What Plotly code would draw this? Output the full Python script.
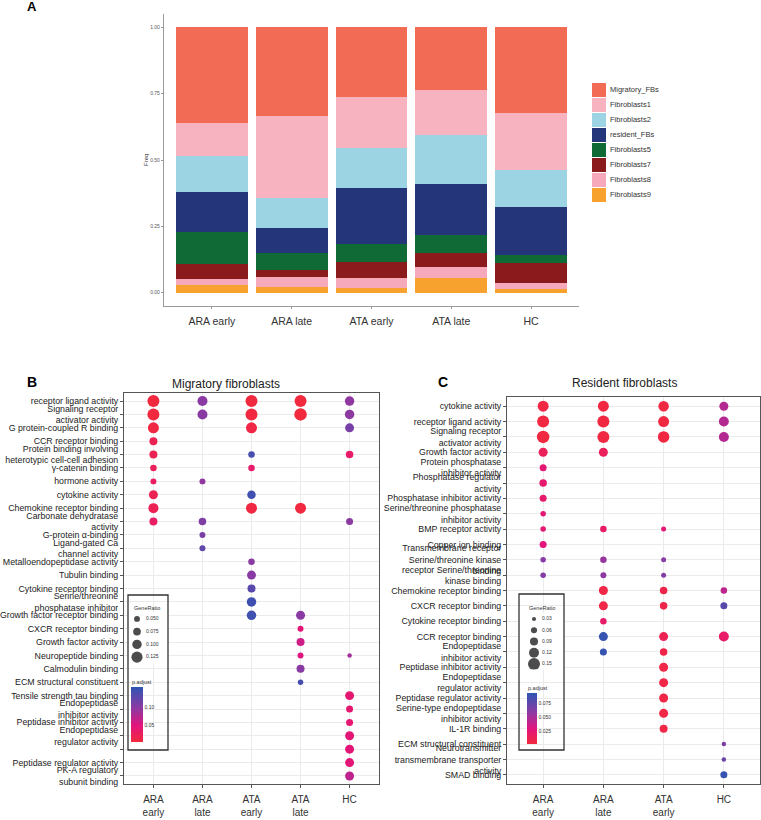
import plotly.graph_objects as go

W, H = 761, 820
FONT = "Liberation Sans, Arial, Helvetica, sans-serif"


def dx(a, b):
    return [a / W, b / W]


def dy(top, bottom):
    return [1 - bottom / H, 1 - top / H]


# ---------------- Panel A data ----------------
groups = ["ARA early", "ARA late", "ATA early", "ATA late", "HC"]
cell_types = ["Migratory_FBs", "Fibroblasts1", "Fibroblasts2", "resident_FBs",
              "Fibroblasts5", "Fibroblasts7", "Fibroblasts8", "Fibroblasts9"]
freq_migratory_fbs = [0.361, 0.333, 0.261, 0.236, 0.323]
freq_fibroblasts1 = [0.123, 0.312, 0.194, 0.168, 0.216]
freq_fibroblasts2 = [0.136, 0.111, 0.150, 0.185, 0.138]
freq_resident_fbs = [0.152, 0.096, 0.213, 0.195, 0.181]
freq_fibroblasts5 = [0.121, 0.063, 0.065, 0.068, 0.029]
freq_fibroblasts7 = [0.054, 0.026, 0.061, 0.050, 0.075]
freq_fibroblasts8 = [0.025, 0.039, 0.037, 0.043, 0.025]
freq_fibroblasts9 = [0.028, 0.020, 0.019, 0.055, 0.013]
freq_by_type = [freq_migratory_fbs, freq_fibroblasts1, freq_fibroblasts2, freq_resident_fbs,
                freq_fibroblasts5, freq_fibroblasts7, freq_fibroblasts8, freq_fibroblasts9]
type_colors = ["#F26C55", "#F7B4C0", "#9DD4E3", "#25357A",
               "#106A36", "#8B1A1D", "#F5A9BB", "#F7A22E"]
a_yticks = [0, 0.25, 0.5, 0.75, 1.0]
a_yticktext = ["0.00", "0.25", "0.50", "0.75", "1.00"]

# ---------------- Panel B data (Migratory fibroblasts) ----------------
b_groups = ["ARA<br>early", "ARA<br>late", "ATA<br>early", "ATA<br>late", "HC"]
b_terms = [
    "receptor ligand activity",
    "Signaling receptor<br>activator activity",
    "G protein-coupled R binding",
    "CCR receptor binding",
    "Protein binding involving<br>heterotypic cell-cell adhesion",
    "γ-catenin binding",
    "hormone activity",
    "cytokine activity",
    "Chemokine receptor binding",
    "Carbonate dehydratase<br>activity",
    "G-protein α-binding",
    "Ligand-gated Ca<br>channel activity",
    "Metalloendopeptidase activity",
    "Tubulin binding",
    "Cytokine receptor binding",
    "Serine/threonine<br>phosphatase inhibitor",
    "Growth factor receptor binding",
    "CXCR receptor binding",
    "Growth factor activity",
    "Neuropeptide binding",
    "Calmodulin binding",
    "ECM structural constituent",
    "Tensile strength tau binding",
    "Endopeptidase<br>inhibitor activity",
    "Peptidase inhibitor activity",
    "Endopeptidase<br>regulator activity",
    "",
    "Peptidase regulator activity",
    "PK-A regulatory<br>subunit binding",
]
b_row = [0, 0, 0, 0, 0, 1, 1, 1, 1, 1, 2, 2, 2, 3, 4, 4, 4, 5, 5, 6, 6, 7, 7, 8, 8, 8,
         9, 9, 9, 10, 11, 12, 13, 14, 15, 16, 16, 17, 18, 19, 19, 20, 21,
         22, 23, 24, 25, 26, 27, 28]
b_col = [0, 1, 2, 3, 4, 0, 1, 2, 3, 4, 0, 2, 4, 0, 0, 2, 4, 0, 2, 0, 1, 0, 2, 0, 2, 3,
         0, 1, 4, 1, 1, 2, 2, 2, 2, 2, 3, 3, 3, 3, 4, 3, 3,
         4, 4, 4, 4, 4, 4, 4]
b_ratio = [0.137, 0.109, 0.137, 0.137, 0.101, 0.137, 0.109, 0.137, 0.144, 0.101,
           0.123, 0.123, 0.094, 0.080, 0.080, 0.059, 0.073, 0.059, 0.059, 0.051, 0.051,
           0.094, 0.087, 0.109, 0.123, 0.123, 0.080, 0.073, 0.066, 0.051, 0.051,
           0.059, 0.094, 0.080, 0.101, 0.101, 0.094, 0.051, 0.080, 0.051, 0.030,
           0.080, 0.044, 0.094, 0.066, 0.066, 0.094, 0.094, 0.094, 0.094]
b_padj = [0.005, 0.100, 0.006, 0.004, 0.095, 0.005, 0.100, 0.006, 0.004, 0.098,
          0.008, 0.010, 0.110, 0.020, 0.020, 0.140, 0.035, 0.025, 0.035, 0.030, 0.095,
          0.020, 0.145, 0.020, 0.008, 0.006, 0.030, 0.105, 0.100, 0.110, 0.125,
          0.100, 0.100, 0.130, 0.145, 0.145, 0.100, 0.045, 0.060, 0.050, 0.085,
          0.100, 0.140, 0.040, 0.040, 0.040, 0.045, 0.045, 0.045, 0.070]
b_size_breaks = [0.050, 0.075, 0.100, 0.125]
b_size_labels = ["0.050", "0.075", "0.100", "0.125"]
b_padj_ticks = [0.05, 0.10]
b_padj_labels = ["0.05", "0.10"]
b_padj_limits = [0.003, 0.156]

# ---------------- Panel C data (Resident fibroblasts) ----------------
c_groups = ["ARA<br>early", "ARA<br>late", "ATA<br>early", "HC"]
c_terms = [
    "cytokine activity",
    "receptor ligand activity",
    "Signaling receptor<br>activator activity",
    "Growth factor activity",
    "Protein phosphatase<br>inhibitor activity",
    "Phosphatase regulator<br>activity",
    "Phosphatase inhibitor activity",
    "Serine/threonine phosphatase<br>inhibitor activity",
    "BMP receptor activity",
    "Copper ion binding",
    "Transmembrane receptor<br>Serine/threonine kinase<br>binding",
    "receptor Serine/threonine<br>kinase binding",
    "Chemokine receptor binding",
    "CXCR receptor binding",
    "Cytokine receptor binding",
    "CCR receptor binding",
    "Endopeptidase<br>inhibitor activity",
    "Peptidase inhibitor activity",
    "Endopeptidase<br>regulator activity",
    "Peptidase regulator activity",
    "Serine-type endopeptidase<br>inhibitor activity",
    "IL-1R binding",
    "ECM structural constituent",
    "Neurotransmitter<br>transmembrane transporter<br>activity",
    "SMAD binding",
]
c_row = [0, 0, 0, 0, 1, 1, 1, 1, 2, 2, 2, 2, 3, 3, 4, 5, 6, 7, 8, 8, 8, 9,
         10, 10, 10, 11, 11, 11, 12, 12, 12, 13, 13, 13, 14, 15, 15, 15, 16, 16,
         17, 18, 19, 20, 21, 22, 23, 24]
c_col = [0, 1, 2, 3, 0, 1, 2, 3, 0, 1, 2, 3, 0, 1, 0, 0, 0, 0, 0, 1, 2, 0,
         0, 1, 2, 0, 1, 2, 1, 2, 3, 1, 2, 3, 1, 1, 2, 3, 1, 2,
         2, 2, 2, 2, 2, 3, 3, 3]
c_ratio = [0.135, 0.135, 0.128, 0.105, 0.151, 0.151, 0.135, 0.120, 0.158, 0.151, 0.143, 0.120,
           0.105, 0.105, 0.074, 0.082, 0.074, 0.051, 0.051, 0.066, 0.043, 0.074,
           0.051, 0.066, 0.043, 0.051, 0.058, 0.043, 0.105, 0.082, 0.066, 0.105, 0.082, 0.074,
           0.066, 0.105, 0.105, 0.120, 0.074, 0.082,
           0.105, 0.105, 0.105, 0.105, 0.089, 0.035, 0.035, 0.074]
c_padj = [0.005, 0.004, 0.004, 0.045, 0.004, 0.004, 0.004, 0.045, 0.004, 0.004, 0.004, 0.045,
          0.015, 0.015, 0.025, 0.022, 0.022, 0.025, 0.025, 0.020, 0.025, 0.028,
          0.060, 0.055, 0.060, 0.062, 0.058, 0.062, 0.006, 0.008, 0.042, 0.006, 0.008, 0.078,
          0.020, 0.090, 0.012, 0.020, 0.090, 0.008,
          0.006, 0.006, 0.006, 0.006, 0.006, 0.065, 0.070, 0.090]
c_size_breaks = [0.03, 0.06, 0.09, 0.12, 0.15]
c_size_labels = ["0.03", "0.06", "0.09", "0.12", "0.15"]
c_padj_ticks = [0.025, 0.050, 0.075]
c_padj_labels = ["0.025", "0.050", "0.075"]
c_padj_limits = [0.002, 0.093]

padj_scale = [[0.0, "#F22A3C"], [0.3, "#E2147E"], [0.62, "#8C3AA2"], [1.0, "#2E55B3"]]


def b_diam(r):
    return 2.4 + 70 * r


def c_diam(r):
    return 2.2 + 65 * r


fig = go.Figure()

# ---------------- Panel A: stacked bars ----------------
for name, vals, col in reversed(list(zip(cell_types, freq_by_type, type_colors))):
    fig.add_trace(go.Bar(x=groups, y=vals, name=name, marker=dict(color=col, line=dict(width=0)),
                         width=0.9, xaxis="x", yaxis="y", showlegend=False))

# legend for panel A (key drawn in its own small axes)
legend_idx = list(range(len(cell_types)))
fig.add_trace(go.Scatter(
    x=[7] * len(cell_types), y=legend_idx, mode="markers", xaxis="x6", yaxis="y6",
    showlegend=False, hoverinfo="skip",
    marker=dict(symbol="square", size=14, color=type_colors, line=dict(width=0))))
fig.add_trace(go.Scatter(
    x=[18] * len(cell_types), y=legend_idx, mode="text", text=cell_types,
    textposition="middle right", xaxis="x6", yaxis="y6", showlegend=False, hoverinfo="skip",
    textfont=dict(size=7.5, color="#333", family=FONT)))

# ---------------- Panel B: dot plot ----------------
fig.add_trace(go.Scatter(
    x=b_col, y=b_row, mode="markers", xaxis="x2", yaxis="y2", showlegend=False,
    marker=dict(size=[b_diam(r) for r in b_ratio], color=b_padj, colorscale=padj_scale,
                cmin=b_padj_limits[0], cmax=b_padj_limits[1], line=dict(width=0), opacity=1,
                showscale=True,
                colorbar=dict(x=131 / W, xanchor="left", y=1 - 742 / H, yanchor="bottom",
                              len=55, lenmode="pixels", thickness=12, thicknessmode="pixels",
                              xpad=0, ypad=0, outlinewidth=0, ticks="",
                              tickvals=b_padj_ticks, ticktext=b_padj_labels,
                              tickfont=dict(size=5, color="#333", family=FONT)))))

fig.add_trace(go.Scatter(
    x=[9] * len(b_size_breaks), y=list(range(len(b_size_breaks))), mode="markers",
    xaxis="x4", yaxis="y4", showlegend=False, hoverinfo="skip",
    marker=dict(size=[b_diam(r) for r in b_size_breaks], color="black", line=dict(width=0))))
fig.add_trace(go.Scatter(
    x=[18] * len(b_size_breaks), y=list(range(len(b_size_breaks))), mode="text",
    text=b_size_labels, textposition="middle right", xaxis="x4", yaxis="y4", showlegend=False,
    hoverinfo="skip", textfont=dict(size=5, color="#333", family=FONT)))

# ---------------- Panel C: dot plot ----------------
fig.add_trace(go.Scatter(
    x=c_col, y=c_row, mode="markers", xaxis="x3", yaxis="y3", showlegend=False,
    marker=dict(size=[c_diam(r) for r in c_ratio], color=c_padj, colorscale=padj_scale,
                cmin=c_padj_limits[0], cmax=c_padj_limits[1], line=dict(width=0), opacity=1,
                showscale=True,
                colorbar=dict(x=527 / W, xanchor="left", y=1 - 744 / H, yanchor="bottom",
                              len=51, lenmode="pixels", thickness=10, thicknessmode="pixels",
                              xpad=0, ypad=0, outlinewidth=0, ticks="",
                              tickvals=c_padj_ticks, ticktext=c_padj_labels,
                              tickfont=dict(size=5, color="#333", family=FONT)))))

fig.add_trace(go.Scatter(
    x=[15] * len(c_size_breaks), y=list(range(len(c_size_breaks))), mode="markers",
    xaxis="x5", yaxis="y5", showlegend=False, hoverinfo="skip",
    marker=dict(size=[c_diam(r) for r in c_size_breaks], color="black", line=dict(width=0))))
fig.add_trace(go.Scatter(
    x=[23] * len(c_size_breaks), y=list(range(len(c_size_breaks))), mode="text",
    text=c_size_labels, textposition="middle right", xaxis="x5", yaxis="y5", showlegend=False,
    hoverinfo="skip", textfont=dict(size=5, color="#333", family=FONT)))

# ---------------- Layout ----------------
dot_x_common = dict(showgrid=True, gridcolor="#EBEBEB", gridwidth=1, zeroline=False,
                    showline=True, mirror=True, linecolor="#555", linewidth=1,
                    ticks="outside", ticklen=3, tickcolor="#555", automargin=False,
                    ticklabelstandoff=3,
                    tickfont=dict(size=10, color="#333", family=FONT))
dot_y_common = dict(showgrid=True, gridcolor="#EBEBEB", gridwidth=1, zeroline=False,
                    showline=True, mirror=True, linecolor="#555", linewidth=1,
                    ticks="outside", ticklen=3, tickcolor="#555", automargin=False,
                    tickfont=dict(size=8.8, color="#222", family=FONT))
inset = dict(visible=False, fixedrange=True, showgrid=False, zeroline=False, automargin=False)

fig.update_layout(
    width=W, height=H, margin=dict(l=0, r=0, t=0, b=0, autoexpand=False),
    paper_bgcolor="white", plot_bgcolor="white",
    font=dict(family=FONT, color="#222"),
    barmode="stack", bargap=0.1, showlegend=False,
    xaxis=dict(domain=dx(164, 579), range=[-0.6, 4.6], type="category", showgrid=False,
               zeroline=False, showline=True, linecolor="#9a9a9a", linewidth=1.2,
               ticks="outside", ticklen=2, tickcolor="#9a9a9a", automargin=False,
               ticklabelstandoff=3,
               tickfont=dict(size=10.5, color="#333", family=FONT), anchor="y"),
    yaxis=dict(domain=dy(14, 306), range=[-0.05, 1.05], showgrid=False, zeroline=False,
               showline=True, linecolor="#9a9a9a", linewidth=1.2, ticks="outside", ticklen=2,
               tickcolor="#9a9a9a", tickvals=a_yticks, ticktext=a_yticktext, automargin=False,
               tickfont=dict(size=5, color="#555", family=FONT), anchor="x"),
    xaxis2=dict(domain=dx(124, 379), range=[-0.6, 4.6], tickvals=list(range(len(b_groups))),
                ticktext=b_groups, anchor="y2", **dot_x_common),
    yaxis2=dict(domain=dy(393, 784), range=[len(b_terms) - 0.4, -0.6],
                tickvals=list(range(len(b_terms))), ticktext=b_terms, anchor="x2", **dot_y_common),
    xaxis3=dict(domain=dx(507, 760), range=[-0.6, 3.6], tickvals=list(range(len(c_groups))),
                ticktext=c_groups, anchor="y3", **dot_x_common),
    yaxis3=dict(domain=dy(397, 784), range=[len(c_terms) - 0.4, -0.6],
                tickvals=list(range(len(c_terms))), ticktext=c_terms, anchor="x3", **dot_y_common),
    xaxis4=dict(domain=dx(128, 168), range=[0, 40], anchor="y4", **inset),
    yaxis4=dict(domain=dy(612.5, 663.5), range=[len(b_size_breaks) - 0.5, -0.5], anchor="x4", **inset),
    xaxis5=dict(domain=dx(519, 564), range=[0, 45], anchor="y5", **inset),
    yaxis5=dict(domain=dy(613.4, 669.6), range=[len(c_size_breaks) - 0.5, -0.5], anchor="x5", **inset),
    xaxis6=dict(domain=dx(592, 700), range=[0, 108], anchor="y6", **inset),
    yaxis6=dict(domain=dy(82.5, 202.5), range=[len(cell_types) - 0.5, -0.5], anchor="x6", **inset),
)

shapes = [
    dict(type="rect", xref="paper", yref="paper", x0=128 / W, x1=168 / W,
         y0=1 - 750 / H, y1=1 - 595 / H, line=dict(color="#333", width=1.3), fillcolor="rgba(0,0,0,0)"),
    dict(type="rect", xref="paper", yref="paper", x0=519 / W, x1=564 / W,
         y0=1 - 750 / H, y1=1 - 594 / H, line=dict(color="#333", width=1.3), fillcolor="rgba(0,0,0,0)"),
]
fig.update_layout(shapes=shapes)


def ann(text, x, y, size, bold=False, xanchor="center", angle=0, color="#222"):
    return dict(text=f"<b>{text}</b>" if bold else text, x=x / W, y=1 - y / H, xref="paper",
                yref="paper", showarrow=False, xanchor=xanchor, yanchor="middle",
                textangle=angle, font=dict(size=size, color=color, family=FONT))


fig.update_layout(annotations=[
    ann("A", 32, 6, 13, bold=True, color="black"),
    ann("B", 32, 382, 14, bold=True, color="black"),
    ann("C", 443, 382, 14, bold=True, color="black"),
    ann("Freq", 146, 160, 6, angle=-90, color="#333"),
    ann("Migratory fibroblasts", 226, 384, 12),
    ann("Resident fibroblasts", 624, 383, 12),
    ann("GeneRatio", 147, 608, 5.5, color="#333"),
    ann("p.adjust", 130, 682, 5.5, xanchor="left", color="#333"),
    ann("GeneRatio", 542, 608, 5.5, color="#333"),
    ann("p.adjust", 526, 688, 5.5, xanchor="left", color="#333"),
])

# remove the browser's default 8px page margin so the figure fills the 761x820 window
fig.write_html("out.html", config={"displayModeBar": False},
               post_script="document.body.style.margin='0px';document.body.style.overflow='hidden';")
